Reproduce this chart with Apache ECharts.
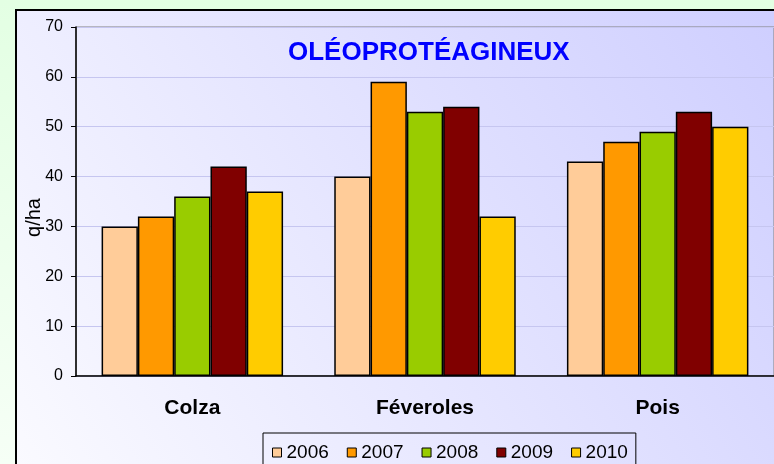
<!DOCTYPE html>
<html>
<head>
<meta charset="utf-8">
<script src="https://cdn.jsdelivr.net/npm/echarts@6/dist/echarts.min.js"></script>
<style>
  html, body { margin: 0; padding: 0; }
  #chart { width: 774px; height: 464px; }
</style>
</head>
<body>
<div id="chart"></div>
<script>
// données (q/ha)
var cultures = ['Colza', 'Féveroles', 'Pois'];
var annees = ['2006', '2007', '2008', '2009', '2010'];
var couleurs = ['#ffcc99', '#ff9900', '#99cc00', '#800000', '#ffcc00'];
var rdt2006 = [30, 40, 43];
var rdt2007 = [32, 59, 47];
var rdt2008 = [36, 53, 49];
var rdt2009 = [42, 54, 53];
var rdt2010 = [37, 32, 50];
var yTicks = [0, 10, 20, 30, 40, 50, 60, 70];

var valeurs = [rdt2006, rdt2007, rdt2008, rdt2009, rdt2010];

var series = annees.map(function (a, i) {
    return {
        name: a,
        type: 'bar',
        data: valeurs[i],
        barGap: '0%',
        barCategoryGap: '22%',
        itemStyle: { color: couleurs[i], borderColor: '#000', borderWidth: 1.5 }
    };
});

var myChart = echarts.init(document.getElementById('chart'));
myChart.setOption({
    animation: false,
    backgroundColor: {
        type: 'linear', x: 0, y: 0, x2: 0, y2: 1,
        colorStops: [{ offset: 0, color: '#e3ffe3' }, { offset: 1, color: '#f6fff6' }]
    },
    textStyle: { fontFamily: 'Liberation Sans, Arial, sans-serif' },
    graphic: [{
        type: 'rect',
        z: -10,
        shape: { x: 16, y: 10, width: 790, height: 490 },
        style: {
            fill: {
                type: 'linear', x: 0, y: 1, x2: 1, y2: 0,
                colorStops: [{ offset: 0, color: '#fbfbff' }, { offset: 1, color: '#cdcdff' }]
            },
            stroke: '#000',
            lineWidth: 2
        }
    }],
    title: {
        text: 'OLÉOPROTÉAGINEUX',
        left: 283,
        top: 35,
        textStyle: { color: '#0000ff', fontSize: 26, fontWeight: 'bold' }
    },
    legend: {
        data: annees,
        left: 263,
        top: 433,
        padding: [10, 8, 30, 9],
        borderColor: '#000',
        borderWidth: 1,
        itemWidth: 9,
        itemHeight: 9,
        itemGap: 18,
        icon: 'rect',
        itemStyle: { borderColor: '#000', borderWidth: 1 },
        textStyle: { color: '#000', fontSize: 19 }
    },
    grid: {
        left: 76,
        top: 27,
        right: -10,
        bottom: 88,
        show: true,
        borderColor: '#808080',
        borderWidth: 1
    },
    xAxis: {
        type: 'category',
        data: cultures,
        axisLine: { lineStyle: { color: '#000', width: 1.5 } },
        axisTick: { length: 5, lineStyle: { color: '#000' } },
        axisLabel: { color: '#000', fontSize: 21, fontWeight: 'bold', margin: 22 }
    },
    yAxis: {
        type: 'value',
        min: yTicks[0],
        max: yTicks[yTicks.length - 1],
        interval: 10,
        name: 'q/ha',
        nameLocation: 'middle',
        nameRotate: 90,
        nameGap: 32,
        nameMoveOverlap: false,
        nameTextStyle: { color: '#000', fontSize: 20, padding: [0, 32, 0, 0] },
        axisLine: { show: true, lineStyle: { color: '#000', width: 1.5 } },
        axisTick: { show: true, length: 5, lineStyle: { color: '#000' } },
        axisLabel: { color: '#000', fontSize: 16, margin: 13 },
        splitLine: { lineStyle: { color: '#c6c6f0' } }
    },
    series: series
});
</script>
</body>
</html>
